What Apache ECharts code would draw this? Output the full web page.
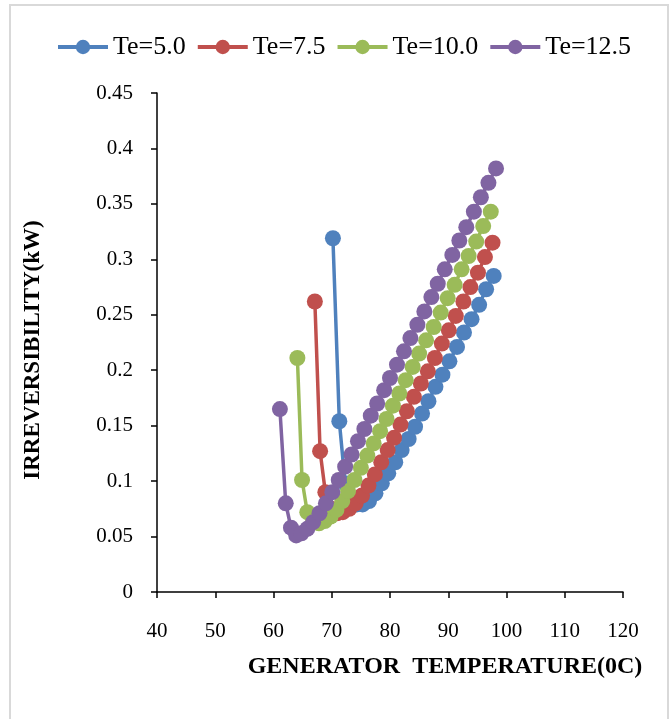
<!DOCTYPE html>
<html>
<head>
<meta charset="utf-8">
<script src="https://cdn.jsdelivr.net/npm/echarts@6/dist/echarts.min.js"></script>
<style>html,body{margin:0;padding:0;background:#fff;}#c{width:672px;height:719px;}</style>
</head>
<body>
<div id="c"></div>
<script>
var seriesNames = ['Te=5.0', 'Te=7.5', 'Te=10.0', 'Te=12.5'];
var xTicks = [40, 50, 60, 70, 80, 90, 100, 110, 120];
var yTicks = [0, 0.05, 0.1, 0.15, 0.2, 0.25, 0.3, 0.35, 0.4, 0.45];

var te50x = [70.2, 71.3, 72.3, 73.3, 74.3, 75.3, 76.4, 77.5, 78.6, 79.7, 80.9, 82.0, 83.2, 84.3, 85.5, 86.6, 87.8, 89.0, 90.2, 91.5, 92.7, 94.0, 95.3, 96.5, 97.8];
var te50y = [0.319, 0.154, 0.098, 0.083, 0.079, 0.079, 0.082, 0.089, 0.098, 0.107, 0.117, 0.128, 0.138, 0.149, 0.161, 0.172, 0.185, 0.196, 0.208, 0.221, 0.234, 0.246, 0.259, 0.273, 0.285];

var te75x = [67.1, 68.0, 68.9, 69.9, 70.9, 71.9, 73.0, 74.1, 75.2, 76.3, 77.4, 78.5, 79.6, 80.7, 81.8, 82.9, 84.1, 85.3, 86.5, 87.7, 88.9, 90.1, 91.3, 92.6, 93.8, 95.1, 96.3, 97.6];
var te75y = [0.262, 0.127, 0.090, 0.075, 0.071, 0.072, 0.075, 0.080, 0.087, 0.096, 0.106, 0.117, 0.128, 0.139, 0.151, 0.163, 0.176, 0.188, 0.199, 0.211, 0.224, 0.236, 0.249, 0.262, 0.275, 0.288, 0.302, 0.315];

var te100x = [64.1, 64.9, 65.8, 66.8, 67.8, 68.8, 69.8, 70.8, 71.8, 72.8, 73.9, 75.0, 76.1, 77.2, 78.3, 79.4, 80.5, 81.6, 82.7, 83.9, 85.0, 86.2, 87.5, 88.7, 89.9, 91.1, 92.3, 93.5, 94.8, 96.0, 97.3];
var te100y = [0.211, 0.101, 0.072, 0.064, 0.062, 0.064, 0.068, 0.074, 0.082, 0.091, 0.101, 0.112, 0.123, 0.134, 0.145, 0.156, 0.168, 0.179, 0.191, 0.203, 0.215, 0.227, 0.239, 0.252, 0.265, 0.277, 0.291, 0.303, 0.316, 0.330, 0.343];

var te125x = [61.1, 62.1, 63.0, 63.9, 64.8, 65.8, 66.8, 67.9, 69.0, 70.1, 71.2, 72.3, 73.4, 74.5, 75.6, 76.7, 77.8, 79.0, 80.0, 81.2, 82.4, 83.5, 84.7, 85.9, 87.1, 88.2, 89.4, 90.7, 91.9, 93.1, 94.4, 95.6, 96.9, 98.2];
var te125y = [0.165, 0.080, 0.058, 0.051, 0.053, 0.057, 0.063, 0.071, 0.080, 0.090, 0.101, 0.113, 0.124, 0.136, 0.147, 0.159, 0.170, 0.182, 0.193, 0.205, 0.217, 0.229, 0.241, 0.253, 0.266, 0.278, 0.291, 0.304, 0.317, 0.329, 0.343, 0.356, 0.369, 0.382];

var colors = ['#4F81BD', '#C0504D', '#9BBB59', '#8064A2'];
var xs = [te50x, te75x, te100x, te125x];
var ys = [te50y, te75y, te100y, te125y];

function pairs(a, b) { return a.map(function (v, i) { return [v, b[i]]; }); }

var FONT = '"Liberation Serif", "Times New Roman", serif';

var chart = echarts.init(document.getElementById('c'), null, {renderer: 'canvas'});
chart.setOption({
  animation: false,
  backgroundColor: '#fff',
  color: colors,
  grid: {left: 157, right: 49, top: 93, bottom: 127, containLabel: false},
  legend: {
    top: 29, left: 51,
    itemWidth: 50, itemHeight: 18, itemGap: 10,
    lineStyle: {width: 4},
    textStyle: {fontFamily: FONT, fontSize: 26, color: '#000'},
    data: seriesNames
  },
  xAxis: {
    type: 'value', min: xTicks[0], max: xTicks[xTicks.length - 1], interval: 10,
    splitLine: {show: false},
    axisLine: {lineStyle: {color: '#000', width: 1.5}},
    axisTick: {show: true, inside: false, length: 6, lineStyle: {color: '#000', width: 1.5}},
    axisLabel: {fontFamily: FONT, fontSize: 21, color: '#000', margin: 29}
  },
  yAxis: {
    type: 'value', min: yTicks[0], max: yTicks[yTicks.length - 1], interval: 0.05,
    splitLine: {show: false},
    axisLine: {show: true, lineStyle: {color: '#000', width: 1.5}},
    axisTick: {show: true, inside: false, length: 6, lineStyle: {color: '#000', width: 1.5}},
    axisLabel: {fontFamily: FONT, fontSize: 21, color: '#000', margin: 24}
  },
  graphic: [
    {type: 'rect', z: -10, silent: true, shape: {x: 10, y: 5, width: 658, height: 740},
      style: {fill: 'none', stroke: '#d9d9d9', lineWidth: 2}},
    {type: 'text', x: 445, y: 667, style: {text: 'GENERATOR  TEMPERATURE(0C)', font: 'bold 24px ' + FONT,
      fill: '#000', textAlign: 'center', textVerticalAlign: 'middle'}},
    {type: 'text', x: 33, y: 350, rotation: Math.PI / 2, style: {text: 'IRREVERSIBILITY(kW)', font: 'bold 23px ' + FONT,
      fill: '#000', textAlign: 'center', textVerticalAlign: 'middle'}}
  ],
  series: seriesNames.map(function (n, i) {
    return {
      name: n, type: 'line', data: pairs(xs[i], ys[i]),
      symbol: 'circle', symbolSize: 16, showSymbol: true,
      lineStyle: {width: 3.5, color: colors[i]},
      itemStyle: {color: colors[i]},
      emphasis: {disabled: true}
    };
  })
});
</script>
</body>
</html>
